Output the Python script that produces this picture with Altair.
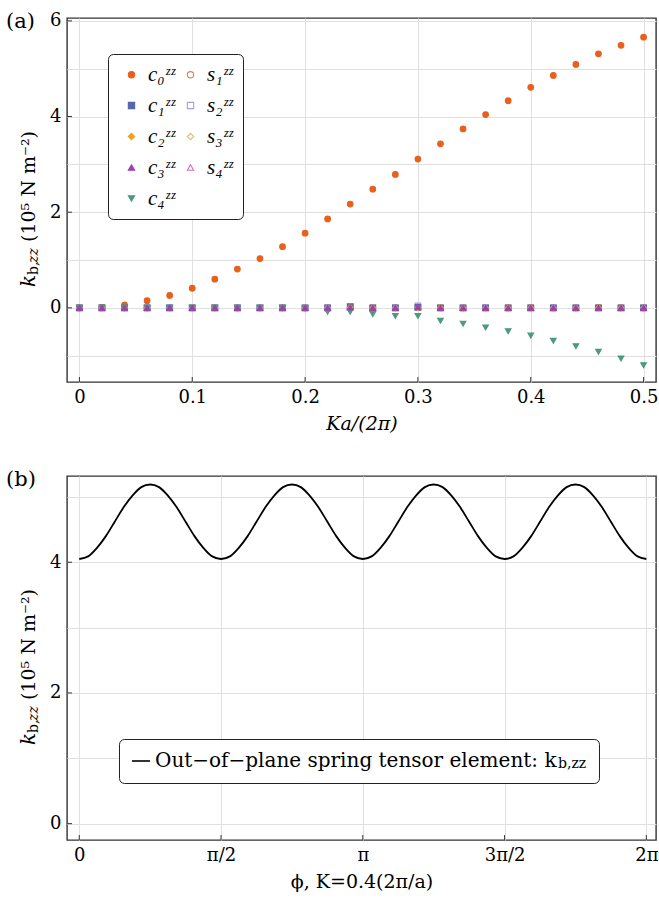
import altair as alt
import pandas as pd
import math

FONT = "DejaVu Serif"
LFONT = "Liberation Serif"

# ---------------- data (panel a) ----------------
ka = [0.00, 0.02, 0.04, 0.06, 0.08, 0.10, 0.12, 0.14, 0.16, 0.18, 0.20, 0.22, 0.24,
      0.26, 0.28, 0.30, 0.32, 0.34, 0.36, 0.38, 0.40, 0.42, 0.44, 0.46, 0.48, 0.50]
c0 = [0.00, 0.01, 0.06, 0.15, 0.26, 0.41, 0.60, 0.81, 1.03, 1.28, 1.56, 1.86, 2.17,
      2.48, 2.79, 3.11, 3.43, 3.74, 4.04, 4.33, 4.61, 4.86, 5.09, 5.31, 5.49, 5.66]
c1 = [0.00, 0.00, 0.00, 0.00, 0.00, 0.00, 0.00, 0.00, 0.00, 0.00, 0.00, 0.00, 0.02,
      0.00, 0.00, 0.01, 0.00, 0.00, 0.00, 0.00, 0.00, 0.00, 0.00, 0.00, 0.00, 0.00]
c2 = [0.00, 0.00, 0.00, 0.00, 0.00, 0.00, 0.00, 0.00, 0.00, 0.00, 0.00, 0.00, 0.01,
      0.00, 0.00, 0.00, 0.00, 0.00, 0.00, 0.00, 0.00, 0.00, 0.00, 0.00, 0.00, 0.00]
c3 = [0.00, 0.00, 0.00, 0.00, 0.00, 0.00, 0.00, 0.00, 0.00, 0.00, 0.00, 0.00, 0.01,
      0.00, 0.00, 0.02, 0.00, 0.00, 0.00, 0.00, 0.00, 0.00, 0.00, 0.00, 0.00, 0.00]
c4 = [0.00, 0.00, 0.00, 0.00, 0.00, 0.00, 0.00, 0.00, 0.00, 0.00, -0.01, -0.08, -0.08,
      -0.13, -0.17, -0.17, -0.27, -0.33, -0.41, -0.49, -0.58, -0.69, -0.80, -0.92, -1.06, -1.20]
s1 = [0.00, 0.00, 0.00, 0.00, 0.00, 0.00, 0.00, 0.00, 0.00, 0.00, 0.00, 0.00, 0.02,
      0.00, 0.00, 0.03, 0.00, 0.00, 0.00, 0.00, 0.00, 0.00, 0.00, 0.00, 0.00, 0.00]
s2 = [0.00, 0.00, 0.00, 0.00, 0.00, 0.00, 0.00, 0.00, 0.00, 0.00, 0.00, 0.00, 0.03,
      0.00, 0.00, 0.04, 0.00, 0.00, 0.00, 0.00, 0.00, 0.00, 0.00, 0.00, 0.00, 0.00]
s3 = [0.00, 0.00, 0.00, 0.00, 0.00, 0.00, 0.00, 0.00, 0.00, 0.00, 0.00, 0.00, 0.01,
      0.00, 0.00, 0.01, 0.00, 0.00, 0.00, 0.00, 0.00, 0.00, 0.00, 0.00, 0.00, 0.00]
s4 = [0.00, 0.00, 0.00, 0.00, 0.00, 0.00, 0.00, 0.00, 0.00, 0.00, 0.00, 0.00, 0.02,
      0.00, 0.00, 0.03, 0.00, 0.00, 0.00, 0.00, 0.00, 0.00, 0.00, 0.00, 0.00, 0.00]

# drawing order (first drawn at the bottom)
draw_names = ["s₁ᶻᶻ", "s₂ᶻᶻ", "s₃ᶻᶻ", "s₄ᶻᶻ", "c₀ᶻᶻ", "c₁ᶻᶻ", "c₂ᶻᶻ", "c₄ᶻᶻ", "c₃ᶻᶻ"]
draw_series = [s1, s2, s3, s4, c0, c1, c2, c4, c3]

# legend order (filled column by column)
legend_order = ["c₀ᶻᶻ", "c₁ᶻᶻ", "c₂ᶻᶻ", "c₃ᶻᶻ", "c₄ᶻᶻ", "s₁ᶻᶻ", "s₂ᶻᶻ", "s₃ᶻᶻ", "s₄ᶻᶻ"]
stroke_colors = ["#E8601C", "#5566B0", "#F1A11B", "#9E3FAF", "#4B9A7D",
                 "#D8854F", "#A99CE0", "#D9C46C", "#D36BB6"]
fill_colors = ["#E8601C", "#5566B0", "#F1A11B", "#9E3FAF", "#4B9A7D",
               "white", "white", "white", "white"]
shapes = ["circle", "square", "diamond", "triangle-up", "triangle-down",
          "circle", "square", "diamond", "triangle-up"]

x_ticks_a = [0, 0.1, 0.2, 0.3, 0.4, 0.5]
y_ticks_a = [0, 2, 4, 6]
y_grid_a = [-1, 0, 1, 2, 3, 4, 5, 6]

# ---------------- data (panel b) ----------------
phi_index = list(range(65))  # phi = index * pi/32
kb = [4.05, 4.09, 4.22, 4.40, 4.62, 4.84, 5.02, 5.15, 5.19, 5.15, 5.02, 4.84, 4.62, 4.40, 4.22, 4.09,
      4.05, 4.09, 4.22, 4.40, 4.62, 4.84, 5.02, 5.15, 5.19, 5.15, 5.02, 4.84, 4.62, 4.40, 4.22, 4.09,
      4.05, 4.09, 4.22, 4.40, 4.62, 4.84, 5.02, 5.15, 5.19, 5.15, 5.02, 4.84, 4.62, 4.40, 4.22, 4.09,
      4.05, 4.09, 4.22, 4.40, 4.62, 4.84, 5.02, 5.15, 5.19, 5.15, 5.02, 4.84, 4.62, 4.40, 4.22, 4.09,
      4.05]
x_ticks_b = [0, math.pi / 2, math.pi, 3 * math.pi / 2, 2 * math.pi]
y_ticks_b = [0, 2, 4]
y_grid_b = [0, 1, 2, 3, 4, 5]
line_label = "Out−of−plane spring tensor element: k"
line_sub = "b,zz"

W = 589
H = 364

rows = []
for n, vals in zip(draw_names, draw_series):
    for xv, yv in zip(ka, vals):
        rows.append({"Ka": xv, "k": yv, "series": n})
df_a = pd.DataFrame(rows)

df_b = pd.DataFrame({"phi": [i * math.pi / 32 for i in phi_index], "k": kb,
                     "lab": [line_label] * len(phi_index)})

one = pd.DataFrame({"t": [0]})

leg_a = alt.Legend(orient="none", legendX=41, legendY=36, columns=2, title=None,
                   labelFont=LFONT, labelFontSize=21, labelFontStyle="italic",
                   symbolSize=40, symbolStrokeWidth=1.1, rowPadding=9, columnPadding=2,
                   padding=10, strokeColor="#222", fillColor="white", cornerRadius=5,
                   labelLimit=200, symbolOffset=3, labelOffset=6)

xa = alt.X("Ka:Q", scale=alt.Scale(domain=[-0.011, 0.511], nice=False, zero=False),
           axis=alt.Axis(values=x_ticks_a, title="Ka/(2π)", titleFontStyle="italic",
                         labelExpr="datum.value == 0 ? '0' : format(datum.value, '.1f')"))
ya = alt.Y("k:Q", scale=alt.Scale(domain=[-1.55, 6.06], nice=False, zero=False),
           axis=alt.Axis(values=y_grid_a, title=None,
                         labelExpr="datum.value % 2 == 0 ? format(datum.value, 'd') : ''"))

points = alt.Chart(df_a).mark_point(size=32, opacity=1, strokeWidth=1.1).encode(
    x=xa, y=ya,
    color=alt.Color("series:N", scale=alt.Scale(domain=legend_order, range=stroke_colors), legend=leg_a),
    fill=alt.Fill("series:N", scale=alt.Scale(domain=legend_order, range=fill_colors), legend=leg_a),
    shape=alt.Shape("series:N", scale=alt.Scale(domain=legend_order, range=shapes), legend=leg_a),
)

tick_xa = alt.Chart(pd.DataFrame({"v": x_ticks_a})).mark_rule(color="#333", strokeWidth=1).encode(
    x=alt.X("v:Q"), y=alt.value(H), y2=alt.value(H - 5))
tick_ya = alt.Chart(pd.DataFrame({"v": y_ticks_a})).mark_rule(color="#333", strokeWidth=1).encode(
    y=alt.Y("v:Q"), x=alt.value(0), x2=alt.value(5))


def ytitle(h):
    y0 = h / 2 + 87
    k = alt.Chart(one).mark_text(angle=270, align="left", baseline="middle", font=FONT,
                                 fontSize=20, fontStyle="italic").encode(
        x=alt.value(-38), y=alt.value(y0), text=alt.value("k"))
    sub = alt.Chart(one).mark_text(angle=270, align="left", baseline="middle", font=FONT,
                                   fontSize=14).encode(
        x=alt.value(-33), y=alt.value(y0 - 12), text=alt.value("b,"))
    sub2 = alt.Chart(one).mark_text(angle=270, align="left", baseline="middle", font=FONT,
                                    fontSize=14, fontStyle="italic").encode(
        x=alt.value(-33), y=alt.value(y0 - 24), text=alt.value("zz"))
    unit = alt.Chart(one).mark_text(angle=270, align="left", baseline="middle", font=FONT,
                                    fontSize=19).encode(
        x=alt.value(-38), y=alt.value(y0 - 45), text=alt.value("(10⁵ N m⁻²)"))
    return [k, sub, sub2, unit]


def panel_label(txt):
    return alt.Chart(one).mark_text(align="left", baseline="middle", font=FONT, fontSize=21).encode(
        x=alt.value(-61), y=alt.value(4), text=alt.value(txt))


top = alt.layer(points, tick_xa, tick_ya, panel_label("(a)"), *ytitle(H)).properties(width=W, height=H)

# ---------------- panel b ----------------
xb = alt.X("phi:Q", scale=alt.Scale(domain=[-0.136, 6.39], nice=False, zero=False),
           axis=alt.Axis(values=x_ticks_b, title="ϕ, K=0.4(2π/a)",
                         labelExpr="datum.value < 0.5 ? '0' : datum.value < 2 ? 'π/2' : datum.value < 3.5 ? 'π' : datum.value < 5 ? '3π/2' : '2π'"))
yb = alt.Y("k:Q", scale=alt.Scale(domain=[-0.25, 5.32], nice=False, zero=False),
           axis=alt.Axis(values=y_grid_b, title=None,
                         labelExpr="datum.value % 2 == 0 ? format(datum.value, 'd') : ''"))

leg_b = alt.Legend(orient="none", legendX=52, legendY=263, title=line_sub, titleOrient="right",
                   titleFont=FONT, titleFontSize=14, titleFontWeight="normal",
                   titleAnchor="end", titleBaseline="bottom", titlePadding=1, titleColor="black",
                   symbolType="stroke",
                   symbolSize=324, symbolStrokeWidth=1.6, labelFont=FONT, labelFontSize=20,
                   labelLimit=700, padding=12, strokeColor="#222", fillColor="white",
                   cornerRadius=5)

line = alt.Chart(df_b).mark_line(strokeWidth=1.8, interpolate="monotone").encode(
    x=xb, y=yb,
    color=alt.Color("lab:N", scale=alt.Scale(domain=[line_label], range=["black"]), legend=leg_b))

tick_xb = alt.Chart(pd.DataFrame({"v": x_ticks_b})).mark_rule(color="#333", strokeWidth=1).encode(
    x=alt.X("v:Q"), y=alt.value(H), y2=alt.value(H - 5))
tick_yb = alt.Chart(pd.DataFrame({"v": y_ticks_b})).mark_rule(color="#333", strokeWidth=1).encode(
    y=alt.Y("v:Q"), x=alt.value(0), x2=alt.value(5))

bottom = alt.layer(line, tick_xb, tick_yb, panel_label("(b)"), *ytitle(H)).properties(
    width=W, height=H)

chart = alt.vconcat(top, bottom, spacing=34).resolve_scale(
    color="independent", fill="independent", shape="independent"
).resolve_legend(color="independent", fill="independent", shape="independent").properties(
    padding={"left": 5, "top": 10, "right": 0, "bottom": 0}
).configure_axis(
    labelFont=FONT, labelFontSize=18, titleFont=FONT, titleFontSize=19,
    titleFontWeight="normal", labelColor="black", titleColor="black",
    gridColor="#e0e0e0", gridWidth=1, domain=False, ticks=False,
    labelPadding=6, titlePadding=8
).configure_view(stroke="#333", strokeWidth=1.4).configure_legend(
    labelColor="black"
)

chart.save("out.html", embed_options={"renderer": "svg", "actions": False})
